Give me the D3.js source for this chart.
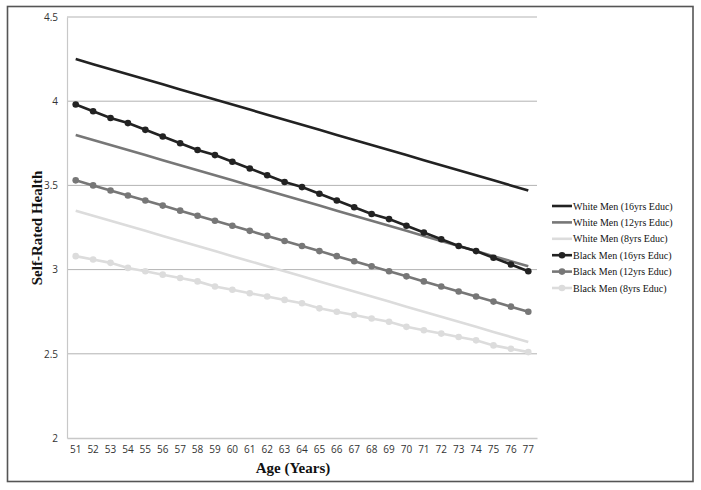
<!DOCTYPE html>
<html><head><meta charset="utf-8">
<script src="https://cdn.jsdelivr.net/npm/d3@7"></script>
<style>body{margin:0;background:#fff}svg{display:block}</style>
</head><body>
<svg id="c" width="701" height="490"></svg>
<script>
const ages = d3.range(51, 78).map(String);
const yTicks = [2, 2.5, 3, 3.5, 4, 4.5];
const white16 = [4.25,4.22,4.19,4.16,4.13,4.10,4.07,4.04,4.01,3.98,3.95,3.92,3.89,3.86,3.83,3.80,3.77,3.74,3.71,3.68,3.65,3.62,3.59,3.56,3.53,3.50,3.47];
const white12 = [3.80,3.77,3.74,3.71,3.68,3.65,3.62,3.59,3.56,3.53,3.50,3.47,3.44,3.41,3.38,3.35,3.32,3.29,3.26,3.23,3.20,3.17,3.14,3.11,3.08,3.05,3.02];
const white8  = [3.35,3.32,3.29,3.26,3.23,3.20,3.17,3.14,3.11,3.08,3.05,3.02,2.99,2.96,2.93,2.90,2.87,2.84,2.81,2.78,2.75,2.72,2.69,2.66,2.63,2.60,2.57];
const black16 = [3.98,3.94,3.90,3.87,3.83,3.79,3.75,3.71,3.68,3.64,3.60,3.56,3.52,3.49,3.45,3.41,3.37,3.33,3.30,3.26,3.22,3.18,3.14,3.11,3.07,3.03,2.99];
const black12 = [3.53,3.50,3.47,3.44,3.41,3.38,3.35,3.32,3.29,3.26,3.23,3.20,3.17,3.14,3.11,3.08,3.05,3.02,2.99,2.96,2.93,2.90,2.87,2.84,2.81,2.78,2.75];
const black8  = [3.08,3.06,3.04,3.01,2.99,2.97,2.95,2.93,2.90,2.88,2.86,2.84,2.82,2.80,2.77,2.75,2.73,2.71,2.69,2.66,2.64,2.62,2.60,2.58,2.55,2.53,2.51];
const seriesNames = ["White Men (16yrs Educ)","White Men (12yrs Educ)","White Men (8yrs Educ)","Black Men (16yrs Educ)","Black Men (12yrs Educ)","Black Men (8yrs Educ)"];
const seriesValues = [white16, white12, white8, black16, black12, black8];
const seriesColors = ["#222222","#777777","#dcdcdc","#222222","#777777","#dcdcdc"];
const seriesMarkers = [false,false,false,true,true,true];

const svg = d3.select("#c");
const m = {l:67, r:537, t:17, b:438};
const x = d3.scaleBand().domain(ages).range([m.l, m.r]);
const y = d3.scaleLinear().domain([2, 4.5]).range([m.b, m.t]);

// outer frame
svg.append("rect").attr("x",7.5).attr("y",6.5).attr("width",685.5).attr("height",475)
  .attr("fill","none").attr("stroke","#555").attr("stroke-width",1.6);

// gridlines
svg.append("g").selectAll("line").data(yTicks.filter(d=>d>2)).join("line")
  .attr("x1",m.l).attr("x2",m.r).attr("y1",d=>y(d)).attr("y2",d=>y(d))
  .attr("stroke","#b3b3b3").attr("stroke-width",1);

// y axis
const ya = svg.append("g").attr("transform",`translate(${m.l},0)`)
  .call(d3.axisLeft(y).tickValues(yTicks).tickFormat(d=>String(d)).tickSize(0).tickPadding(9));
ya.select(".domain").attr("stroke","#c8c8c8").attr("stroke-width",1.2);
ya.selectAll("text").attr("font-family","Open Sans, sans-serif").attr("font-size",10).attr("fill","#333");

// x axis
const xa = svg.append("g").attr("transform",`translate(0,${m.b})`)
  .call(d3.axisBottom(x).tickSize(0).tickPadding(8));
xa.select(".domain").attr("stroke","#c8c8c8").attr("stroke-width",1.6);
xa.selectAll("text").attr("font-family","Open Sans, sans-serif").attr("font-size",10).attr("fill","#333");

// titles
svg.append("text").attr("transform","translate(42,228) rotate(-90)").attr("text-anchor","middle")
  .attr("font-family","Liberation Serif, Times New Roman, serif").attr("font-weight","bold").attr("font-size",15)
  .attr("fill","#111").text("Self-Rated Health");
svg.append("text").attr("x",293).attr("y",473).attr("text-anchor","middle")
  .attr("font-family","Liberation Serif, Times New Roman, serif").attr("font-weight","bold").attr("font-size",15)
  .attr("fill","#111").text("Age (Years)");

// series
const line = d3.line().x((d,i)=>x(ages[i])+x.bandwidth()/2).y(d=>y(d));
const drawOrder = [2,1,0,5,4,3];
drawOrder.forEach(k=>{
  svg.append("path").datum(seriesValues[k]).attr("d",line).attr("fill","none")
    .attr("stroke",seriesColors[k]).attr("stroke-width",2.6);
  if (seriesMarkers[k]) {
    svg.append("g").selectAll("circle").data(seriesValues[k]).join("circle")
      .attr("cx",(d,i)=>x(ages[i])+x.bandwidth()/2).attr("cy",d=>y(d)).attr("r",3.3)
      .attr("fill",seriesColors[k]);
  }
});

// legend
const lg = svg.append("g");
seriesNames.forEach((n,k)=>{
  const yy = 206 + k*16.4;
  lg.append("line").attr("x1",552).attr("x2",572).attr("y1",yy).attr("y2",yy)
    .attr("stroke",seriesColors[k]).attr("stroke-width",2.6);
  if (seriesMarkers[k]) lg.append("circle").attr("cx",562).attr("cy",yy).attr("r",3.3).attr("fill",seriesColors[k]);
  lg.append("text").attr("x",573).attr("y",yy+3.6).attr("font-family","Liberation Serif, Times New Roman, serif")
    .attr("font-size",10).attr("fill","#111").text(n);
});
</script>
</body></html>
